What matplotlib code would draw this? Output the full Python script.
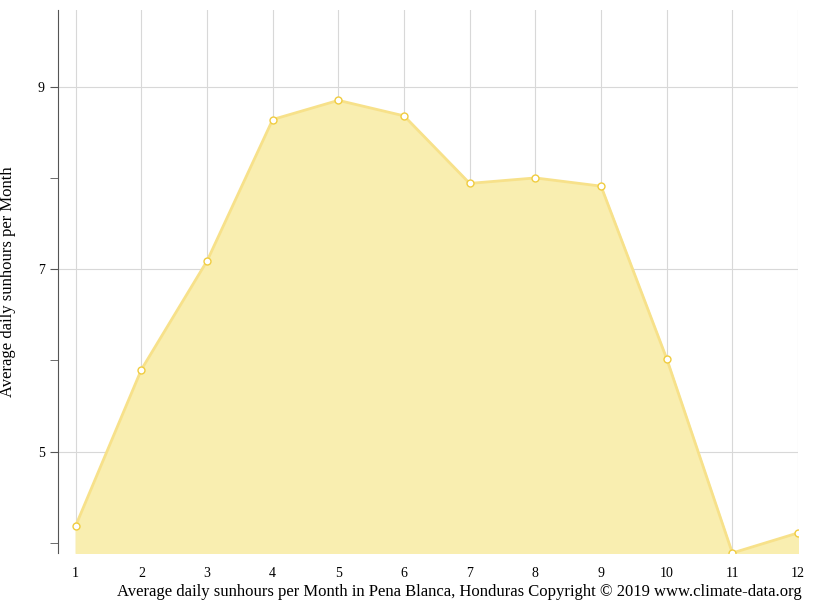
import matplotlib.pyplot as plt

plt.rcParams['font.family'] = ['Liberation Serif', 'DejaVu Serif']

months = [1, 2, 3, 4, 5, 6, 7, 8, 9, 10, 11, 12]
sunhours = [4.19, 5.90, 7.09, 8.64, 8.85, 8.68, 7.94, 8.00, 7.91, 6.02, 3.89, 4.11]

W, H = 815, 611
fig = plt.figure(figsize=(W / 100, H / 100), dpi=100)
ax = fig.add_axes([58 / W, 1 - 553 / H, (798 - 58) / W, (553 - 10) / H])

ymin = 3.89
ax.fill_between(months, sunhours, ymin, color='#f9eeb0', zorder=2)
ax.plot(months, sunhours, color='#f7e18a', lw=2, zorder=3,
        marker='o', ms=5, mfc='white', mec='#f0cc40', mew=1)

ax.set_xlim(0.73, 12)
ax.set_ylim(ymin, 9.84)
ax.set_xticks(months)
ax.set_yticks([5, 7, 9])
ax.set_yticks([4, 6, 8], minor=True)
ax.grid(True, color='#d8d8d8', lw=0.8, zorder=0)
ax.tick_params(axis='x', length=0, labelsize=10, pad=10)
ax.tick_params(axis='y', which='both', length=6, labelsize=10, color='#555555')

for s in ['top', 'right', 'bottom']:
    ax.spines[s].set_visible(False)
ax.spines['left'].set_color('#555555')

ax.set_ylabel('Average daily sunhours per Month', fontsize=12, labelpad=16)
fig.text(802 / W, 1 - 592 / H,
         'Average daily sunhours per Month in Pena Blanca, Honduras Copyright © 2019 www.climate-data.org',
         ha='right', va='center', fontsize=12)

fig.savefig('out.png', dpi=100)
